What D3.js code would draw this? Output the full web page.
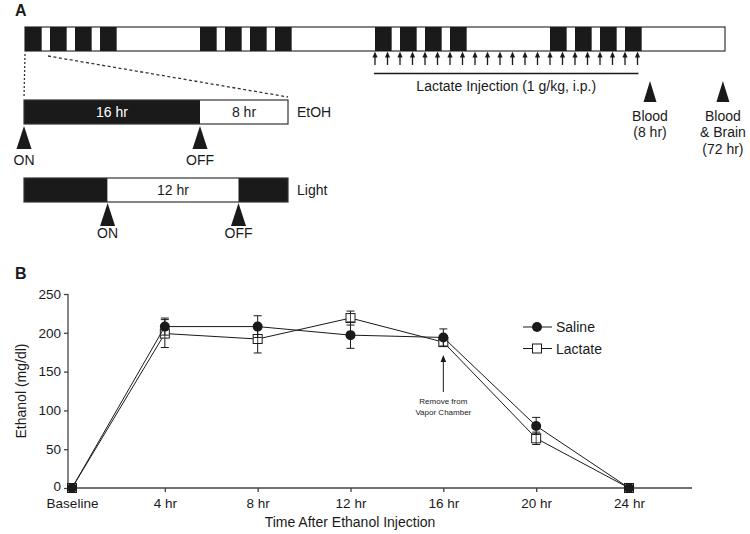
<!DOCTYPE html>
<html><head><meta charset="utf-8">
<script src="https://cdn.jsdelivr.net/npm/d3@7"></script>
<style>
body{margin:0;background:#fff;}
svg{display:block;font-family:"Liberation Sans",Arial,sans-serif;}
</style></head>
<body><svg id="c" width="750" height="534"></svg>
<script>
// ---------- Panel A data ----------
const totalHours = 672;                 // 28 days
const vaporDays = [0,1,2,3,7,8,9,10,14,15,16,17,21,22,23,24];
const vaporHoursPerDay = 16;
const injectionHours = [336,348,360,372,384,396,408,420,432,444,456,468,480,492,504,516,528,540,552,564,576,588];
const injectionLabel = "Lactate Injection (1 g/kg, i.p.)";
const sampleHours = [600, 670];
const sampleLabels = [["Blood","(8 hr)"],["Blood","& Brain","(72 hr)"]];
const etohSegments = [[0,16,"16 hr",true],[16,24,"8 hr",false]];
const etohMarkers = [[0,"ON"],[16,"OFF"]];
const lightSegments = [[0,7.6,"",true],[7.6,19.5,"12 hr",false],[19.5,24,"",true]];
const lightMarkers = [[7.6,"ON"],[19.5,"OFF"]];

// ---------- Panel B data ----------
const timepoints = ["Baseline","4 hr","8 hr","12 hr","16 hr","20 hr","24 hr"];
const salineMean = [0,208,208,197,194,80,0];
const salineErr  = [0,11,14,17,11,11,0];
const lactateMean = [0,199,192,219,188,64,0];
const lactateErr  = [0,18,18,9,5,8,0];
const yTicks = [0,50,100,150,200,250];
const seriesNames = ["Saline","Lactate"];

const svg = d3.select("#c");
const ink = "#1a1a1a";
const FS = 14;

// ===== Panel A =====
svg.append("text").attr("x",15).attr("y",16).attr("font-size",16).attr("font-weight","bold").attr("fill",ink).text("A");

const xT = d3.scaleLinear().domain([0,totalHours]).range([25,725]);
const barY = 27, barH = 24;
svg.append("rect").attr("x",xT(0)).attr("y",barY).attr("width",xT(totalHours)-xT(0)).attr("height",barH)
  .attr("fill","#fff").attr("stroke","#333").attr("stroke-width",1.2);
svg.selectAll("rect.vap").data(vaporDays).join("rect").attr("class","vap")
  .attr("x",d=>xT(d*24)).attr("y",barY).attr("width",d=>xT(d*24+vaporHoursPerDay)-xT(d*24)).attr("height",barH)
  .attr("fill",ink);

// injection arrows
const inj = svg.append("g");
injectionHours.forEach(h=>{
  const x = xT(h);
  inj.append("line").attr("x1",x).attr("x2",x).attr("y1",56).attr("y2",65).attr("stroke",ink).attr("stroke-width",1.3);
  inj.append("path").attr("d",`M${x},51.5 L${x-2.6},57.5 L${x+2.6},57.5 Z`).attr("fill",ink);
});
svg.append("line").attr("x1",xT(injectionHours[0])-1).attr("x2",xT(injectionHours[injectionHours.length-1])+1)
  .attr("y1",73.5).attr("y2",73.5).attr("stroke",ink).attr("stroke-width",1.3);
svg.append("text").attr("x",(xT(injectionHours[0])+xT(injectionHours[injectionHours.length-1]))/2).attr("y",91)
  .attr("text-anchor","middle").attr("font-size",FS).attr("fill",ink).text(injectionLabel);

// blood samples
sampleHours.forEach((h,i)=>{
  const x = xT(h);
  svg.append("path").attr("d",`M${x},81 L${x-6.5},102 L${x+6.5},102 Z`).attr("fill",ink);
  sampleLabels[i].forEach((t,j)=>{
    svg.append("text").attr("x",x).attr("y",121+j*16.3).attr("text-anchor","middle").attr("font-size",FS).attr("fill",ink).text(t);
  });
});

// zoom panel
const xZ = d3.scaleLinear().domain([0,24]).range([24,288]);
svg.append("line").attr("x1",xT(0)).attr("x2",xZ(0)).attr("y1",54).attr("y2",98)
  .attr("stroke","#333").attr("stroke-width",1.3).attr("stroke-dasharray","2,2");
svg.append("line").attr("x1",xT(24)-2).attr("x2",xZ(24)).attr("y1",56).attr("y2",97)
  .attr("stroke","#333").attr("stroke-width",1.3).attr("stroke-dasharray","3,2.5");

function drawBar(segs, y, h, label){
  segs.forEach(s=>{
    svg.append("rect").attr("x",xZ(s[0])).attr("y",y).attr("width",xZ(s[1])-xZ(s[0])).attr("height",h)
      .attr("fill",s[3]?ink:"#fff");
    if(s[2]) svg.append("text").attr("x",(xZ(s[0])+xZ(s[1]))/2).attr("y",y+h/2+5).attr("text-anchor","middle")
      .attr("font-size",FS).attr("fill",s[3]?"#fff":ink).text(s[2]);
  });
  svg.append("rect").attr("x",xZ(0)).attr("y",y).attr("width",xZ(24)-xZ(0)).attr("height",h)
    .attr("fill","none").attr("stroke","#333").attr("stroke-width",1.2);
  svg.append("text").attr("x",297).attr("y",y+h/2+5).attr("font-size",FS).attr("fill",ink).text(label);
}
function drawMarkers(ms, yTop, yText){
  ms.forEach(m=>{
    const x = xZ(m[0]);
    svg.append("path").attr("d",`M${x},${yTop} L${x-7.5},${yTop+23} L${x+7.5},${yTop+23} Z`).attr("fill",ink);
    svg.append("text").attr("x",x).attr("y",yText).attr("text-anchor","middle").attr("font-size",FS).attr("fill",ink).text(m[1]);
  });
}
drawBar(etohSegments,100,24,"EtOH");
drawMarkers(etohMarkers,126,165);
drawBar(lightSegments,178,24,"Light");
drawMarkers(lightMarkers,203,238);

// ===== Panel B =====
svg.append("text").attr("x",15).attr("y",279).attr("font-size",16).attr("font-weight","bold").attr("fill",ink).text("B");

const x = d3.scalePoint().domain(timepoints).range([72,629]);
const y = d3.scaleLinear().domain([0,250]).range([488,294]);
const axisCol = "#444";

const gy = svg.append("g").attr("transform","translate(68,0)")
  .call(d3.axisLeft(y).tickValues(yTicks).tickSize(4).tickPadding(3));
gy.select(".domain").attr("d","M0,294V488");
const gx = svg.append("g").attr("transform","translate(0,488)")
  .call(d3.axisBottom(x).tickSize(4).tickPadding(6));
gx.select(".domain").attr("d","M68,0H692");
[gx,gy].forEach(g=>{
  g.selectAll(".domain,.tick line").attr("stroke",axisCol).attr("stroke-width",1.3);
  g.selectAll("text").attr("font-size",13.5).attr("fill",ink).attr("font-family","Liberation Sans, Arial, sans-serif");
});
gy.selectAll(".tick text").filter(d=>d===0).attr("dy","0.2em");

svg.append("text").attr("x",(68+692)/2-30).attr("y",527).attr("text-anchor","middle").attr("font-size",FS).attr("fill",ink)
  .text("Time After Ethanol Injection");
svg.append("text").attr("transform","translate(26,391) rotate(-90)").attr("text-anchor","middle").attr("font-size",FS).attr("fill",ink)
  .text("Ethanol (mg/dl)");

const line = d3.line().x((d,i)=>x(timepoints[i])).y(d=>y(d));
function series(mean, err, kind){
  const g = svg.append("g");
  g.append("path").attr("d",line(mean)).attr("fill","none").attr("stroke",ink).attr("stroke-width",1);
  mean.forEach((m,i)=>{
    if(!err[i]) return;
    const cx = x(timepoints[i]);
    g.append("line").attr("x1",cx).attr("x2",cx).attr("y1",y(m+err[i])).attr("y2",y(m-err[i])).attr("stroke",ink).attr("stroke-width",1);
    [m+err[i],m-err[i]].forEach(v=>g.append("line").attr("x1",cx-4).attr("x2",cx+4).attr("y1",y(v)).attr("y2",y(v)).attr("stroke",ink).attr("stroke-width",1));
  });
  mean.forEach((m,i)=>{
    const cx = x(timepoints[i]), cy = y(m);
    if(kind==="circle") g.append("circle").attr("cx",cx).attr("cy",cy).attr("r",5).attr("fill",ink);
    else g.append("rect").attr("x",cx-4.5).attr("y",cy-4.5).attr("width",9).attr("height",9).attr("fill","#fff").attr("stroke",ink).attr("stroke-width",1);
  });
  return g;
}
const gl = series(lactateMean, lactateErr, "square");
lactateMean.forEach((m,i)=>{
  if(!lactateErr[i]) return;
  const cx = x(timepoints[i]);
  gl.append("line").attr("x1",cx).attr("x2",cx).attr("y1",y(m)-4.5).attr("y2",y(m)+4.5).attr("stroke",ink).attr("stroke-width",0.8);
});
series(salineMean, salineErr, "circle");

// annotation
const ax = x("16 hr");
svg.append("line").attr("x1",ax).attr("x2",ax).attr("y1",361).attr("y2",392).attr("stroke",ink).attr("stroke-width",1);
svg.append("path").attr("d",`M${ax},355 L${ax-2.8},362 L${ax+2.8},362 Z`).attr("fill",ink);
["Remove from","Vapor Chamber"].forEach((t,j)=>svg.append("text").attr("x",ax).attr("y",404+j*10.5)
  .attr("text-anchor","middle").attr("font-size",8).attr("fill","#222").text(t));

// legend
seriesNames.forEach((n,i)=>{
  const ly = 327 + i*21.5;
  svg.append("line").attr("x1",523).attr("x2",552).attr("y1",ly).attr("y2",ly).attr("stroke",ink).attr("stroke-width",1);
  if(i===0) svg.append("circle").attr("cx",537).attr("cy",ly).attr("r",5).attr("fill",ink);
  else svg.append("rect").attr("x",532.5).attr("y",ly-4.5).attr("width",9).attr("height",9).attr("fill","#fff").attr("stroke",ink);
  svg.append("text").attr("x",556).attr("y",ly+5).attr("font-size",14).attr("fill",ink).text(n);
});
</script></body></html>
